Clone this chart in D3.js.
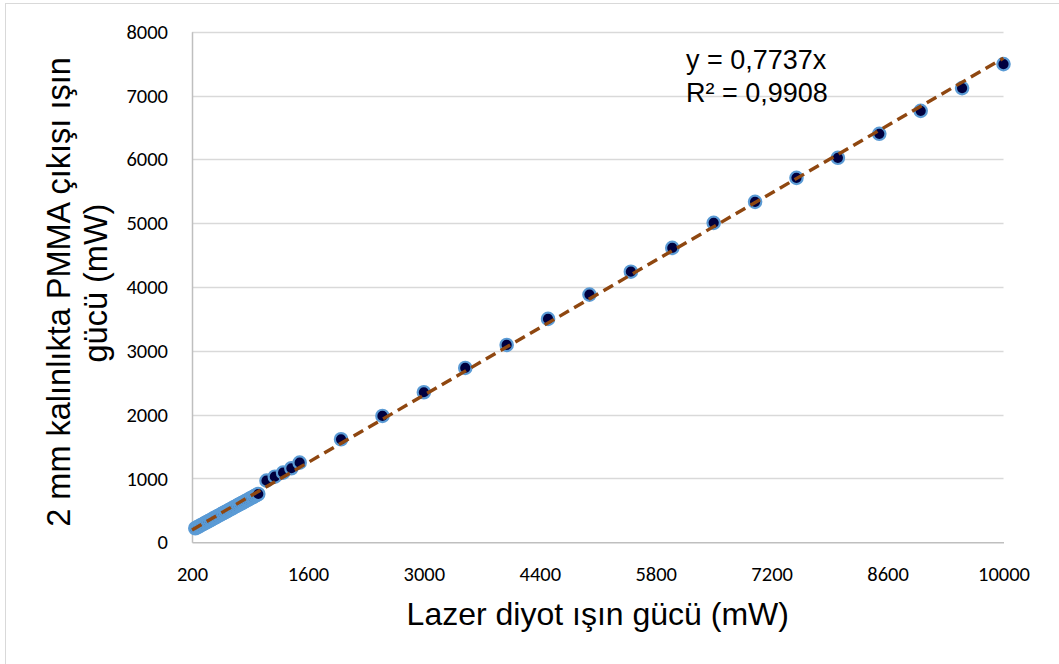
<!DOCTYPE html>
<html>
<head>
<meta charset="utf-8">
<script src="https://cdn.jsdelivr.net/npm/d3@7"></script>
<style>
  html, body { margin: 0; padding: 0; background: #ffffff; }
  svg { display: block; }
</style>
</head>
<body>
<svg id="chart" width="1059" height="664"></svg>
<script>
// ---- data ----
// dense low-power run (overlapping markers form the light-blue band)
const bandX = [240, 260, 280, 300, 320, 340, 360, 380, 400, 420, 440, 460, 480, 500, 520, 540, 560, 580, 600, 620,
               640, 660, 680, 700, 720, 740, 760, 780, 800, 820, 840, 860, 880, 900, 920, 940, 960, 980, 1000];
const bandY = [220, 234, 248, 262, 276, 290, 304, 318, 332, 346, 360, 375, 389, 403, 417, 431, 445, 459, 473, 487,
               501, 515, 530, 544, 558, 572, 586, 600, 614, 628, 642, 656, 670, 685, 699, 713, 727, 741, 757];
// higher-power measurements
const pointX = [1100, 1200, 1300, 1400, 1500, 2000, 2500, 3000, 3500, 4000, 4500, 5000, 5500, 6000,
                6500, 7000, 7500, 8000, 8500, 9000, 9500, 10000];
const pointY = [966, 1028, 1091, 1160, 1248, 1614, 1980, 2351, 2732, 3092, 3500, 3881, 4240, 4613,
                5005, 5334, 5710, 6024, 6400, 6760, 7116, 7492];
// trendline end points as drawn
const trendX = [200, 10000];
const trendY = [193, 7586];
const xTicks = [200, 1600, 3000, 4400, 5800, 7200, 8600, 10000];
const yTicks = [0, 1000, 2000, 3000, 4000, 5000, 6000, 7000, 8000];
const equationLines = ["y = 0,7737x", "R² = 0,9908"];
const xTitle = "Lazer diyot ışın gücü (mW)";
const yTitleLines = ["2 mm kalınlıkta PMMA çıkışı ışın", "gücü (mW)"];

// ---- layout ----
const svg = d3.select("#chart");
const plot = { left: 192, right: 1003.5, top: 31.7, bottom: 542.3 };

const x = d3.scaleLinear().domain([200, 10000]).range([plot.left, plot.right]);
const y = d3.scaleLinear().domain([0, 8000]).range([plot.bottom, plot.top]);

// chart border
svg.append("rect")
  .attr("x", 5.5).attr("y", 3.5).attr("width", 1100).attr("height", 700)
  .attr("fill", "#ffffff").attr("stroke", "#d9d9d9").attr("stroke-width", 1);

// gridlines
svg.append("g")
  .selectAll("line")
  .data(yTicks.filter(d => d > 0))
  .join("line")
  .attr("x1", plot.left).attr("x2", plot.right)
  .attr("y1", d => Math.round(y(d)) + 0.5).attr("y2", d => Math.round(y(d)) + 0.5)
  .attr("stroke", "#d9d9d9").attr("stroke-width", 1.3);

// y axis
const yAxis = svg.append("g")
  .attr("transform", `translate(${plot.left},0)`)
  .call(d3.axisLeft(y).tickValues(yTicks).tickSize(0).tickPadding(24).tickFormat(d3.format("d")));
yAxis.select(".domain").attr("stroke", "#bfbfbf").attr("stroke-width", 1.5);
yAxis.selectAll("text")
  .attr("font-family", "Carlito, Lato, sans-serif").attr("font-size", 20.5).attr("fill", "#000");

// x axis
const xAxis = svg.append("g")
  .attr("transform", `translate(0,${plot.bottom})`)
  .call(d3.axisBottom(x).tickValues(xTicks).tickSize(0).tickPadding(24).tickFormat(d3.format("d")));
xAxis.select(".domain").attr("stroke", "#bfbfbf").attr("stroke-width", 1.5);
xAxis.selectAll("text")
  .attr("font-family", "Carlito, Lato, sans-serif").attr("font-size", 20.5).attr("fill", "#000");

// markers
const pts = bandX.map((d, i) => ({ x: d, y: bandY[i] }))
  .concat(pointX.map((d, i) => ({ x: d, y: pointY[i] })));
svg.append("g")
  .selectAll("circle")
  .data(pts)
  .join("circle")
  .attr("cx", d => x(d.x))
  .attr("cy", d => y(d.y))
  .attr("r", 6.2)
  .attr("fill", "#00003f")
  .attr("stroke", "#5b9bd5")
  .attr("stroke-width", 2.2);

// trendline
const line = d3.line().x(d => x(d[0])).y(d => y(d[1]));
svg.append("path")
  .attr("d", line(trendX.map((d, i) => [d, trendY[i]])))
  .attr("fill", "none")
  .attr("stroke", "#8f4710")
  .attr("stroke-width", 3.4)
  .attr("stroke-dasharray", "11,6");

// equation
svg.append("g")
  .selectAll("text")
  .data(equationLines)
  .join("text")
  .attr("x", 686)
  .attr("y", (d, i) => 68.5 + i * 33)
  .attr("font-family", "Liberation Sans, Arial, sans-serif")
  .attr("font-size", 27)
  .attr("fill", "#000")
  .text(d => d);

// x title
svg.append("text")
  .attr("x", (plot.left + plot.right) / 2)
  .attr("y", 625)
  .attr("text-anchor", "middle")
  .attr("font-family", "Liberation Sans, Arial, sans-serif")
  .attr("font-size", 32)
  .attr("fill", "#000")
  .text(xTitle);

// y title
svg.append("g")
  .selectAll("text")
  .data(yTitleLines)
  .join("text")
  .attr("transform", (d, i) => `translate(${70 + i * 37},${i === 0 ? 292 : 283}) rotate(-90)`)
  .attr("text-anchor", "middle")
  .attr("font-family", "Liberation Sans, Arial, sans-serif")
  .attr("font-size", 32.5)
  .attr("fill", "#000")
  .text(d => d);
</script>
</body>
</html>
